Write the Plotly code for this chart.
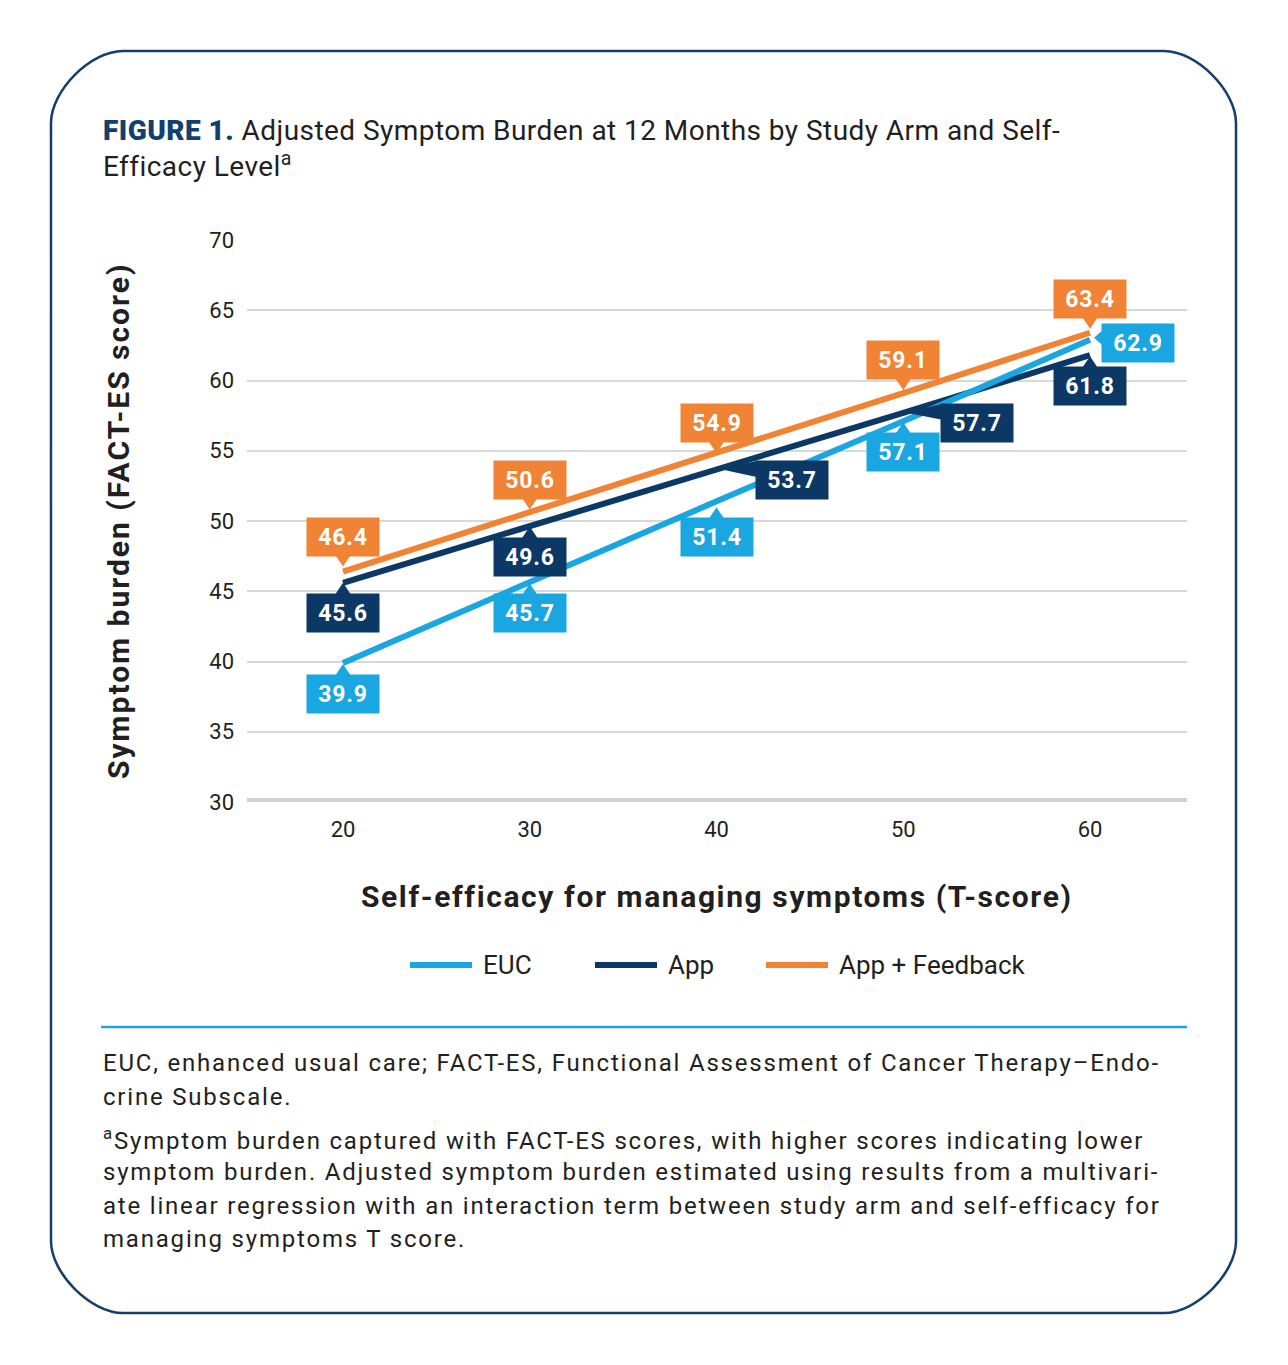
import plotly.graph_objects as go

# data
x_vals = [20, 30, 40, 50, 60]
series_names = ["EUC", "App", "App + Feedback"]
euc = [39.9, 45.7, 51.4, 57.1, 62.9]
app = [45.6, 49.6, 53.7, 57.7, 61.8]
app_feedback = [46.4, 50.6, 54.9, 59.1, 63.4]
y_ticks = [30, 35, 40, 45, 50, 55, 60, 65, 70]
x_ticks = [20, 30, 40, 50, 60]

series_values = {"EUC": euc, "App": app, "App + Feedback": app_feedback}
colors = {"EUC": "#1aa7e1", "App": "#0c3866", "App + Feedback": "#f08334"}
draw_order = ["App", "App + Feedback", "EUC"]

# callout placement: box offset in px (dx right, dy down) and tail style
placements = {
    "EUC": [(0, 31, "v"), (0, 32, "v"), (0, 36, "v"), (0, 31, "v"), (48, 3, "h")],
    "App": [(0, 30, "v"), (0, 30, "v"), (75, 11, "w"), (74, 10, "w"), (0, 31, "v")],
    "App + Feedback": [(0, -35, "v"), (0, -33, "v"), (0, -29, "v"), (0, -33, "v"), (0, -34, "v")],
}

title_text = ("<span style='color:#123f6e;font-weight:900'>FIGURE 1.</span> Adjusted Symptom Burden at 12 Months "
              "by Study Arm and Self-<br>Efficacy Level<sup>a</sup>")
footnote_lines = [
    ("EUC, enhanced usual care; FACT-ES, Functional Assessment of Cancer Therapy\u2013Endo-", 1063),
    ("crine Subscale.", 1097),
    ("<sup>a</sup>Symptom burden captured with FACT-ES scores, with higher scores indicating lower", 1139),
    ("symptom burden. Adjusted symptom burden estimated using results from a multivari-", 1172),
    ("ate linear regression with an interaction term between study arm and self-efficacy for", 1206),
    ("managing symptoms T score.", 1239),
]

W, H = 1288, 1365
OFF = 8  # page margin around the plot div
PL, PR, PT, PB = 247, 1187, 240, 802
X_RANGE = [14.859, 65.194]
Y_RANGE = [30, 70]
xs = (PR - PL) / (X_RANGE[1] - X_RANGE[0])
ys = (PB - PT) / (Y_RANGE[1] - Y_RANGE[0])
TXT = "#231f20"
FONT = "Roboto"


def px(x):
    return (x - PL) / (PR - PL)


def py(y):
    return (PB - y) / (PB - PT)


def spaced(text, sp):
    return f"<span style='letter-spacing:{sp}px'>{text}</span>"


fig = go.Figure()
for name in draw_order:
    fig.add_trace(go.Scatter(
        x=x_vals, y=series_values[name], mode="lines", name=name,
        line=dict(color=colors[name], width=6), showlegend=False, hoverinfo="skip",
    ))

shapes = []
annotations = []

# baseline at 30
shapes.append(dict(type="line", xref="paper", yref="y", x0=0, x1=1, y0=30, y1=30,
                   line=dict(color="#d1d3d4", width=8), layer="below"))

# callouts
for name in series_names:
    c = colors[name]
    for xv, yv, (dx, dy, kind) in zip(x_vals, series_values[name], placements[name]):
        if kind == "v":
            if dy < 0:
                edge = dy + 19
                pts = [(-8, edge - 1), (8, edge - 1), (0, edge + 11)]
            else:
                edge = dy - 19
                pts = [(-8, edge + 1), (8, edge + 1), (0, edge - 11)]
        elif kind == "h":
            left = dx - 36
            pts = [(left + 1, dy - 13), (left + 1, dy + 3), (left - 8, dy - 5)]
        else:
            left = dx - 36
            top = dy - 19
            pts = [(left + 1, top), (left + 1, top + 16), (3, 0)]
        path = "M " + " L ".join(f"{xv + a / xs:.4f},{yv - b / ys:.4f}" for a, b in pts) + " Z"
        shapes.append(dict(type="path", xref="x", yref="y", path=path,
                           fillcolor=c, line=dict(width=0), layer="above"))
        annotations.append(dict(
            x=xv, y=yv, xref="x", yref="y", xshift=dx, yshift=-dy,
            text=spaced(f"<b>{yv:.1f}</b>", 0.8), showarrow=False, bgcolor=c,
            font=dict(family=FONT, size=23, color="white"),
            width=62, height=28, borderpad=5, xanchor="center", yanchor="middle",
        ))

# axis titles
annotations.append(dict(x=px(118), y=0.5, xref="paper", yref="paper", textangle=-90,
                        text=spaced("<b>Symptom burden (FACT-ES score)</b>", 2), showarrow=False,
                        font=dict(family=FONT, size=30, color=TXT), xanchor="center", yanchor="middle"))
annotations.append(dict(x=0.5, y=py(896), xref="paper", yref="paper",
                        text=spaced("<b>Self-efficacy for managing symptoms (T-score)</b>", 1.6),
                        showarrow=False,
                        font=dict(family=FONT, size=30, color=TXT), xanchor="center", yanchor="middle"))

# title
annotations.append(dict(x=px(101), y=py(148), xref="paper", yref="paper", text=spaced(title_text, 0.45),
                        showarrow=False, align="left", xanchor="left", yanchor="middle",
                        font=dict(family=FONT, size=28, color=TXT)))

# legend (drawn by hand for the long line samples)
legend_pos = [410, 595, 766]
for name, lx in zip(series_names, legend_pos):
    shapes.append(dict(type="line", xref="paper", yref="paper", x0=px(lx), x1=px(lx + 62),
                       y0=py(965), y1=py(965), line=dict(color=colors[name], width=6)))
    annotations.append(dict(x=px(lx + 71), y=py(965), xref="paper", yref="paper", text=name,
                            showarrow=False, xanchor="left", yanchor="middle",
                            font=dict(family=FONT, size=26, color=TXT)))

# separator and footnotes
shapes.append(dict(type="line", xref="paper", yref="paper", x0=px(101), x1=px(1187),
                   y0=py(1027), y1=py(1027), line=dict(color="#1aa7e1", width=2.5)))
for line, yy in footnote_lines:
    annotations.append(dict(x=px(101), y=py(yy), xref="paper", yref="paper", text=spaced(line, 1.8),
                            showarrow=False, xanchor="left", yanchor="middle", align="left",
                            font=dict(family=FONT, size=24, color=TXT)))

# rounded border
bx0, by0, bx1, by1, r = 51, 51, 1236, 1313, 72
k = 0.45 * r
border = (
    f"M {px(bx0 + r)},{py(by0)} L {px(bx1 - r)},{py(by0)} "
    f"C {px(bx1 - r + k)},{py(by0)} {px(bx1)},{py(by0 + r - k)} {px(bx1)},{py(by0 + r)} "
    f"L {px(bx1)},{py(by1 - r)} "
    f"C {px(bx1)},{py(by1 - r + k)} {px(bx1 - r + k)},{py(by1)} {px(bx1 - r)},{py(by1)} "
    f"L {px(bx0 + r)},{py(by1)} "
    f"C {px(bx0 + r - k)},{py(by1)} {px(bx0)},{py(by1 - r + k)} {px(bx0)},{py(by1 - r)} "
    f"L {px(bx0)},{py(by0 + r)} "
    f"C {px(bx0)},{py(by0 + r - k)} {px(bx0 + r - k)},{py(by0)} {px(bx0 + r)},{py(by0)} Z"
)
shapes.append(dict(type="path", xref="paper", yref="paper", path=border,
                   line=dict(color="#153e6b", width=2.5)))

fig.update_layout(
    width=W - OFF, height=H - OFF, autosize=False,
    margin=dict(l=PL - OFF, r=W - PR, t=PT - OFF, b=H - PB),
    paper_bgcolor="white", plot_bgcolor="white",
    showlegend=False,
    shapes=shapes, annotations=annotations,
    xaxis=dict(range=X_RANGE, tickvals=x_ticks, showgrid=False, zeroline=False, showline=False,
               ticks="", ticklabelstandoff=12, tickfont=dict(family=FONT, size=22, color=TXT),
               fixedrange=True),
    yaxis=dict(range=Y_RANGE, tickvals=y_ticks, showgrid=True, gridcolor="#d7d8d9", gridwidth=2,
               zeroline=False, showline=False, ticks="", ticklabelstandoff=12,
               tickfont=dict(family=FONT, size=22, color=TXT), fixedrange=True),
)

fig.write_html("out.html")
